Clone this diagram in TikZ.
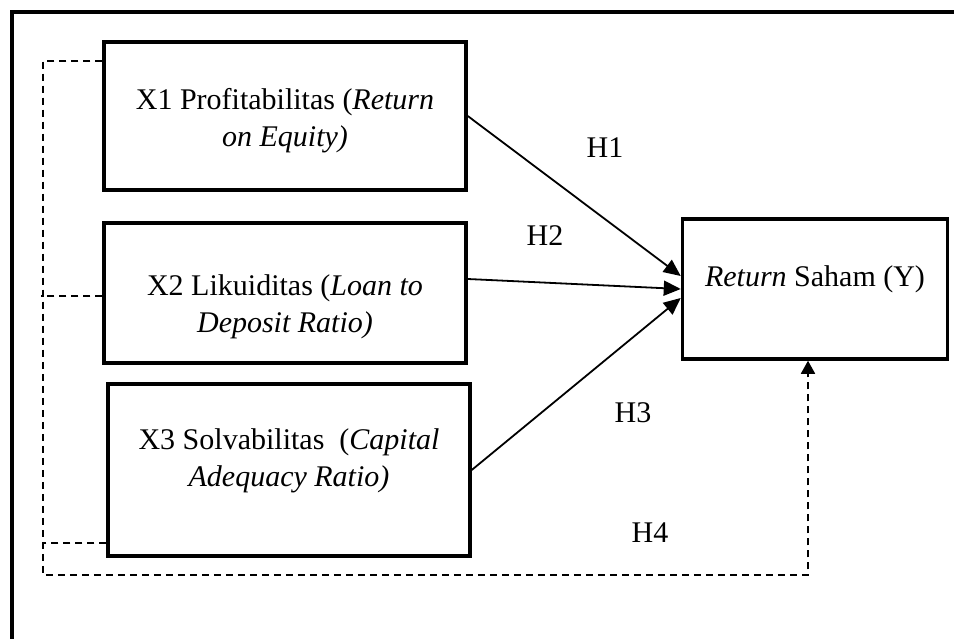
\documentclass[tikz,border=0pt]{standalone}
\usepackage{fontspec}
\setmainfont{Liberation Serif}
\usetikzlibrary{arrows.meta,positioning,calc}
\begin{document}
\begin{tikzpicture}[x=1pt,y=-1pt,node distance=177pt,font=\fontsize{30}{37}\selectfont]
	\tikzstyle{box}=[draw,line width=3.5pt,minimum width=362pt,align=center]
	\tikzstyle{link}=[line width=1.8pt,-{Triangle[length=17pt,width=15pt]}]
	\tikzstyle{dashline}=[line width=1.8pt,dash pattern=on 7pt off 5pt]
	\useasboundingbox (0,0) rectangle (954,639);
	\fill[white] (0,0) rectangle (954,639);
	\draw[line width=4.5pt] (12,660) -- (12,12) -- (975,12);
	
	\node[box,minimum height=148pt,text height=68pt](X1) at (285,116){X1 Profitabilitas (\textit{Return}\\\textit{on Equity)}};
	\node[box,minimum height=140pt,text height=86pt](X2)[below of=X1]{X2 Likuiditas (\textit{Loan to}\\\textit{Deposit Ratio)}};
	\node[box,minimum height=172pt,text depth=25pt](X3)[below of=X2,xshift=4pt]{X3 Solvabilitas\ \ (\textit{Capital}\\\textit{Adequacy Ratio)}};
	\node[box,minimum width=265pt,minimum height=140pt,text depth=25pt](Y)[right of=X2,node distance=530pt,yshift=4pt]{\textit{Return} Saham (Y)};
	
	\node(h1) at (605,148){H1};
	\node(h2) at (545,236){H2};
	\node(h3) at (633,413){H3};
	\node(h4) at (650,533){H4};
	
	\draw[link] (X1.east) -- ([yshift=13pt]Y.west);
	\draw[link] ([yshift=14pt]X2.east) -- (Y.west);
	\draw[link] (X3.east) -- ([yshift=-9pt]Y.west);
	
	\coordinate (c1) at (43,61);
	\coordinate (c2) at (43,575);
	\coordinate (c3) at (808,575);
	\draw[dashline,-{Triangle[length=13pt,width=14pt]}] ([yshift=55pt]X1.west) -- (c1) -- (c2) -- (c3) -- (c3 |- Y.south);
	\draw[dashline] ([yshift=-3pt]X2.west) -- ++(-61,0);
	\draw[dashline] ([yshift=-73pt]X3.west) -- ++(-63,0);
\end{tikzpicture}
\end{document}
